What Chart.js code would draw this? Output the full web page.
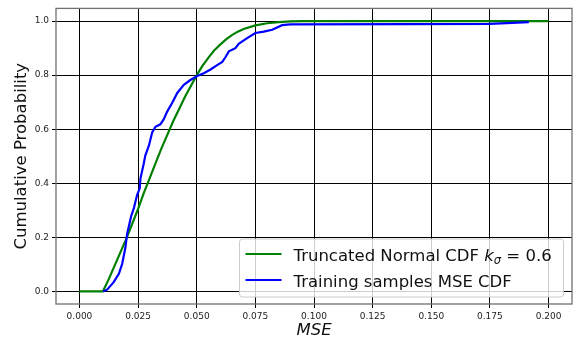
<!DOCTYPE html>
<html><head><meta charset="utf-8">
<script src="https://cdn.jsdelivr.net/npm/chart.js@4.4.0/dist/chart.umd.min.js"></script>
<style>html,body{margin:0;padding:0;background:#fff;}#wrap{width:580px;height:347px;}</style>
</head><body><div id="wrap"><canvas id="c" width="580" height="347"></canvas></div>
<script>
// ---- data ----
const xTickValues = [0, 0.025, 0.05, 0.075, 0.1, 0.125, 0.15, 0.175, 0.2];
const xTickLabels = ['0.000', '0.025', '0.050', '0.075', '0.100', '0.125', '0.150', '0.175', '0.200'];
const yTickValues = [0, 0.2, 0.4, 0.6, 0.8, 1.0];
const yTickLabels = ['0.0', '0.2', '0.4', '0.6', '0.8', '1.0'];

const normalX = [0, 0.005, 0.010, 0.0125, 0.015, 0.0175, 0.020, 0.0225, 0.025, 0.0275, 0.030, 0.0325, 0.035, 0.0375, 0.040, 0.0425, 0.045, 0.0475, 0.050, 0.0525, 0.055, 0.0575, 0.060, 0.0625, 0.065, 0.0675, 0.070, 0.075, 0.080, 0.085, 0.090, 0.095, 0.100, 0.125, 0.150, 0.175, 0.200];
const normalY = [0, 0, 0, 0.045, 0.095, 0.145, 0.195, 0.25, 0.305, 0.365, 0.42, 0.475, 0.53, 0.58, 0.63, 0.675, 0.72, 0.76, 0.80, 0.835, 0.865, 0.892, 0.913, 0.932, 0.948, 0.961, 0.971, 0.984, 0.992, 0.996, 0.999, 1.0, 1.0, 1.0, 1.0, 1.0, 1.0];

const sampleX = [0.0101, 0.0118, 0.0146, 0.0168, 0.0182, 0.0196, 0.0203, 0.0220, 0.0232, 0.0246, 0.0257, 0.0260, 0.0274, 0.0281, 0.0296, 0.0310, 0.0324, 0.0345, 0.0359, 0.0374, 0.0395, 0.0417, 0.0445, 0.0473, 0.0502, 0.0530, 0.0559, 0.0587, 0.0609, 0.0623, 0.0637, 0.0665, 0.0679, 0.0715, 0.0750, 0.0786, 0.0822, 0.0864, 0.0900, 0.1400, 0.1750, 0.1916];
const sampleY = [0.0, 0.006, 0.034, 0.065, 0.101, 0.162, 0.211, 0.277, 0.308, 0.357, 0.381, 0.417, 0.472, 0.503, 0.539, 0.588, 0.609, 0.618, 0.636, 0.665, 0.697, 0.734, 0.764, 0.782, 0.797, 0.807, 0.821, 0.837, 0.849, 0.867, 0.888, 0.900, 0.916, 0.937, 0.956, 0.961, 0.968, 0.985, 0.988, 0.989, 0.990, 0.996];

const seriesNames = ['Truncated Normal CDF', 'Training samples MSE CDF'];
const kSigmaValue = '0.6';
const xTitle = 'MSE';
const yTitle = 'Cumulative Probability';

const toPts = (xs, ys) => xs.map((x, i) => ({x: x, y: ys[i]}));

const FONT = 'DejaVu Sans';

const bgPlugin = {
  id: 'bg',
  beforeDraw(chart) {
    const ctx = chart.ctx;
    ctx.save(); ctx.fillStyle = '#ffffff'; ctx.fillRect(0, 0, chart.width, chart.height); ctx.restore();
  }
};

const framePlugin = {
  id: 'frame',
  afterDatasetsDraw(chart) {
    const ctx = chart.ctx, a = chart.chartArea;
    ctx.save();
    ctx.strokeStyle = '#707070'; ctx.lineWidth = 1.3;
    ctx.strokeRect(a.left, a.top, a.right - a.left, a.bottom - a.top);
    ctx.restore();
  }
};

const legendPlugin = {
  id: 'mplLegend',
  afterDraw(chart) {
    const ctx = chart.ctx, a = chart.chartArea;
    const w = 324, h = 58;
    const x0 = a.right - 8.5 - w, y0 = a.bottom - 7 - h;
    ctx.save();
    ctx.beginPath();
    ctx.roundRect(x0, y0, w, h, 3);
    ctx.fillStyle = 'rgba(255,255,255,0.8)'; ctx.fill();
    ctx.strokeStyle = '#cccccc'; ctx.lineWidth = 1; ctx.stroke();
    const ds = chart.data.datasets;
    const rows = [y0 + 15, y0 + 41];
    const lx0 = x0 + 6, lx1 = x0 + 42, tx = x0 + 54;
    rows.forEach((ry, i) => {
      ctx.beginPath(); ctx.moveTo(lx0, ry); ctx.lineTo(lx1, ry);
      ctx.strokeStyle = ds[i].borderColor; ctx.lineWidth = 2.2; ctx.stroke();
    });
    ctx.fillStyle = '#111';
    ctx.textBaseline = 'alphabetic'; ctx.textAlign = 'left';
    // row 1 with math k_sigma
    let x = tx, base = rows[0] + 6.5;
    ctx.font = '16.5px "' + FONT + '"';
    const t1 = seriesNames[0] + ' ';
    ctx.fillText(t1, x, base); x += ctx.measureText(t1).width;
    ctx.font = 'italic 16.5px "' + FONT + '"';
    ctx.fillText('k', x, base); x += ctx.measureText('k').width;
    ctx.font = 'italic 11.5px "' + FONT + '"';
    ctx.fillText('σ', x, base + 3); x += ctx.measureText('σ').width;
    ctx.font = '16.5px "' + FONT + '"';
    ctx.fillText(' = ' + kSigmaValue, x, base);
    // row 2
    ctx.fillText(seriesNames[1], tx, rows[1] + 6.5);
    ctx.restore();
  }
};

new Chart(document.getElementById('c'), {
  type: 'line',
  data: {
    datasets: [
      {label: seriesNames[0], data: toPts(normalX, normalY), borderColor: '#008000', borderWidth: 2.2, pointRadius: 0, tension: 0, fill: false, order: 1},
      {label: seriesNames[1], data: toPts(sampleX, sampleY), borderColor: '#0000ff', borderWidth: 2.2, pointRadius: 0, tension: 0, fill: false, order: 0}
    ]
  },
  options: {
    responsive: false, animation: false, devicePixelRatio: 1,
    layout: {padding: {left: 0, right: 8, top: 4, bottom: 0}},
    plugins: {legend: {display: false}, tooltip: {enabled: false}},
    scales: {
      x: {
        type: 'linear', min: -0.01, max: 0.21,
        afterBuildTicks(s) { s.ticks = xTickValues.map(v => ({value: v})); },
        afterFit(s) { s.height = 43; },
        ticks: {callback: (v, i) => xTickLabels[i], color: '#222', font: {family: FONT, size: 9}, padding: 3, maxRotation: 0, autoSkip: false},
        grid: {color: '#000', lineWidth: 1, drawTicks: true, tickLength: 4, tickColor: '#000'},
        border: {display: false},
        title: {display: true, text: xTitle, color: '#111', font: {family: FONT, size: 16.5, style: 'italic', lineHeight: 1.2}, padding: {top: 0, bottom: 6}}
      },
      y: {
        type: 'linear', min: -0.047, max: 1.047,
        afterBuildTicks(s) { s.ticks = yTickValues.map(v => ({value: v})); },
        afterFit(s) { s.width = 56; },
        ticks: {callback: (v, i) => yTickLabels[i], color: '#222', font: {family: FONT, size: 9}, padding: 3, autoSkip: false},
        grid: {color: '#000', lineWidth: 1, drawTicks: true, tickLength: 4, tickColor: '#000'},
        border: {display: false},
        title: {display: true, text: yTitle, color: '#111', font: {family: FONT, size: 16.5, lineHeight: 1.2}, padding: {top: 11.6, bottom: 0}}
      }
    }
  },
  plugins: [bgPlugin, framePlugin, legendPlugin]
});
</script>
</body></html>
